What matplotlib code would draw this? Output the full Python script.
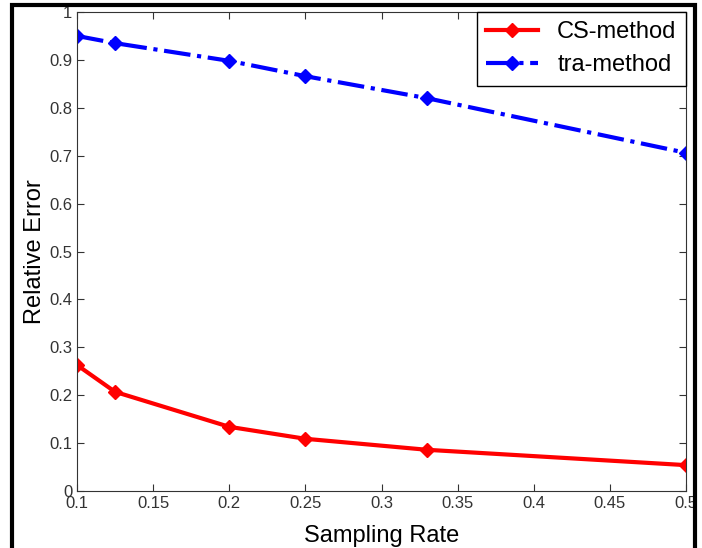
import matplotlib.pyplot as plt
from matplotlib.patches import Rectangle

# sampling rates and relative errors
rate = [0.1, 0.125, 0.2, 0.25, 0.33, 0.5]
cs_err = [0.263, 0.207, 0.134, 0.109, 0.086, 0.054]
tra_err = [0.950, 0.935, 0.898, 0.866, 0.820, 0.706]

plt.rcParams['font.family'] = ['Liberation Sans', 'DejaVu Sans']

fig = plt.figure(figsize=(7.02, 5.48), dpi=100)
ax = fig.add_axes([77/702, 57/548, 609/702, 479/548])

ax.plot(rate, cs_err, '-', color='red', lw=3, marker='D', ms=7, label='CS-method')
ax.plot(rate, tra_err, '-.', color='blue', lw=3, marker='D', ms=7, label='tra-method')

ax.set_xlim(0.1, 0.5)
ax.set_ylim(0, 1)
ax.set_xticks([0.1, 0.15, 0.2, 0.25, 0.3, 0.35, 0.4, 0.45, 0.5])
ax.set_xticklabels(['0.1', '0.15', '0.2', '0.25', '0.3', '0.35', '0.4', '0.45', '0.5'])
ax.set_yticks([0, 0.1, 0.2, 0.3, 0.4, 0.5, 0.6, 0.7, 0.8, 0.9, 1])
ax.set_yticklabels(['0', '0.1', '0.2', '0.3', '0.4', '0.5', '0.6', '0.7', '0.8', '0.9', '1'])
ax.tick_params(direction='in', top=True, right=True, labelsize=12, length=5,
               color='#333333', labelcolor='#333333')
for s in ax.spines.values():
    s.set_color('#333333')
ax.set_xlabel('Sampling Rate', fontsize=17, labelpad=10)
ax.set_ylabel('Relative Error', fontsize=17, labelpad=2)

leg = ax.legend(loc='upper right', borderaxespad=0, fancybox=False, fontsize=17,
                edgecolor='black', handlelength=2.2, framealpha=1, labelspacing=0.45)
leg.get_frame().set_linewidth(1.0)

# outer black frame
fig.patches.append(Rectangle((12/702, -0.05), 683/702, 1.05 - 5/548, transform=fig.transFigure,
                             fill=False, edgecolor='black', lw=3))

fig.savefig('out.png', dpi=100)
